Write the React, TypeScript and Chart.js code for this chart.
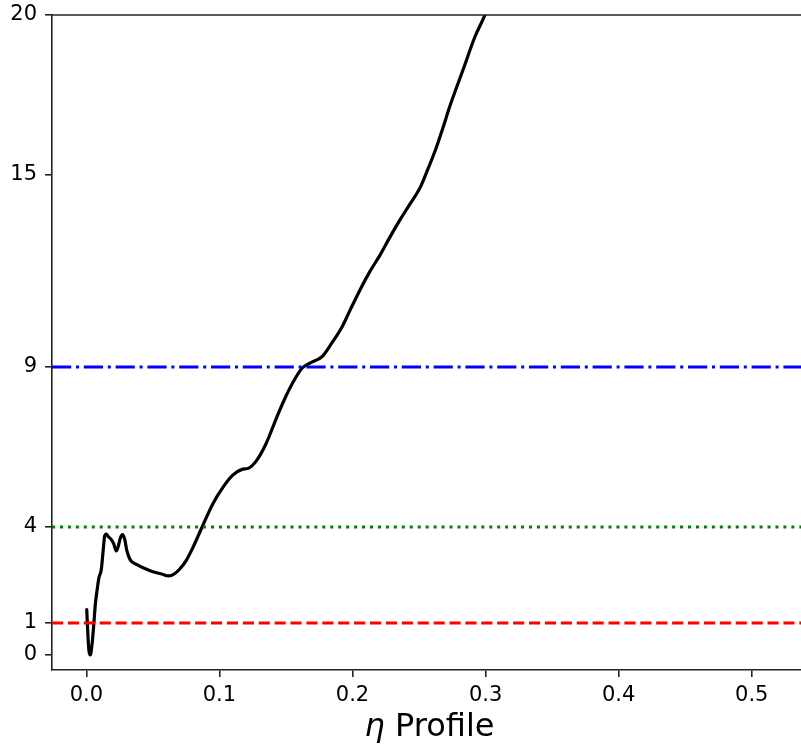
import { useEffect, useRef } from 'react';
import { Chart, registerables } from 'chart.js';

Chart.register(...registerables);

// ---- data ----
const ETA_X = [
  0.0003, 0.0012, 0.002, 0.003, 0.0042, 0.0055, 0.0068, 0.008, 0.0095, 0.0112,
  0.0125, 0.0138, 0.015, 0.0165, 0.0185, 0.0205, 0.0225, 0.024, 0.0255, 0.0272,
  0.0288, 0.0305, 0.033, 0.038, 0.044, 0.05, 0.056, 0.062, 0.066, 0.07,
  0.075, 0.08, 0.087, 0.095, 0.103, 0.11, 0.117, 0.122, 0.128, 0.135,
  0.143, 0.149, 0.155, 0.162, 0.168, 0.177, 0.184, 0.192, 0.198, 0.206,
  0.213, 0.221, 0.228, 0.236, 0.243, 0.251, 0.257, 0.263, 0.268, 0.273,
  0.283, 0.292, 0.2995, 0.308,
];
const ETA_Y = [
  1.42, 0.6, 0.12, 0.0, 0.3, 0.9, 1.6, 2.0, 2.42, 2.66,
  3.2, 3.72, 3.78, 3.7, 3.62, 3.48, 3.25, 3.4, 3.65, 3.76,
  3.62, 3.25, 2.97, 2.82, 2.7, 2.6, 2.54, 2.47, 2.53, 2.68,
  2.95, 3.35, 4.0, 4.72, 5.26, 5.62, 5.8, 5.84, 6.08, 6.6,
  7.42, 8.0, 8.5, 8.96, 9.12, 9.32, 9.72, 10.24, 10.76, 11.44,
  11.98, 12.52, 13.05, 13.62, 14.08, 14.62, 15.22, 15.86, 16.48, 17.13,
  18.28, 19.32, 20.0, 21.0,
];
const REF_LEVELS = [1, 4, 9];
const REF_COLORS = ['#ff0000', '#008000', '#0000ff'];
const REF_DASHES = [
  [11.1, 4.8],
  [3, 4.95],
  [19.2, 4.8, 3, 4.8],
];
const X_TICKS = [0, 0.1, 0.2, 0.3, 0.4, 0.5];
const Y_TICKS = [0, 1, 4, 9, 15, 20];
const X_MIN = -0.0258;
const X_MAX = 0.537;
const Y_MIN = -0.47;
const Y_MAX = 20;
const X_TITLE_SYMBOL = 'η';
const X_TITLE_TEXT = ' Profile';

const FONT = '"DejaVu Sans", sans-serif';
const SPINE = '#222';

const framePlugin = {
  id: 'frame',
  afterDraw(chart: any) {
    const { ctx, chartArea } = chart;
    ctx.save();
    // top spine
    ctx.strokeStyle = SPINE;
    ctx.lineWidth = 1.6;
    ctx.beginPath();
    ctx.moveTo(chartArea.left, chartArea.top);
    ctx.lineTo(chart.width, chartArea.top);
    ctx.stroke();
    // x title
    ctx.fillStyle = '#000';
    ctx.textBaseline = 'alphabetic';
    ctx.font = `italic 32px ${FONT}`;
    const w1 = ctx.measureText(X_TITLE_SYMBOL).width;
    ctx.font = `32px ${FONT}`;
    const w2 = ctx.measureText(X_TITLE_TEXT).width;
    const cx = (chartArea.left + chartArea.right) / 2 + 3;
    const x0 = cx - (w1 + w2) / 2;
    const baseY = 736;
    ctx.font = `italic 32px ${FONT}`;
    ctx.textAlign = 'left';
    ctx.fillText(X_TITLE_SYMBOL, x0, baseY);
    ctx.font = `32px ${FONT}`;
    ctx.fillText(X_TITLE_TEXT, x0 + w1, baseY);
    ctx.restore();
  },
};

export default function App() {
  const ref = useRef<HTMLCanvasElement | null>(null);

  useEffect(() => {
    if (!ref.current) return;
    const refSets = REF_LEVELS.map((lvl, i) => ({
      data: [
        { x: X_MIN, y: lvl },
        { x: X_MAX, y: lvl },
      ],
      borderColor: REF_COLORS[i],
      borderWidth: 3,
      borderDash: REF_DASHES[i],
      borderCapStyle: 'butt' as const,
      pointRadius: 0,
      tension: 0,
      fill: false,
    }));
    const curve = {
      data: ETA_X.map((x, i) => ({ x, y: ETA_Y[i] })),
      borderColor: '#000',
      borderWidth: 3.2,
      pointRadius: 0,
      cubicInterpolationMode: 'monotone' as const,
      fill: false,
      borderJoinStyle: 'round' as const,
      borderCapStyle: 'round' as const,
    };
    const tickFont = { family: FONT, size: 21 };
    const chart = new Chart(ref.current, {
      type: 'line',
      data: { datasets: [...refSets, curve] as any },
      options: {
        responsive: false,
        animation: false,
        devicePixelRatio: 1,
        layout: { padding: { top: 15, right: 0, left: 0, bottom: 0 } },
        plugins: { legend: { display: false }, tooltip: { enabled: false } },
        scales: {
          x: {
            type: 'linear',
            min: X_MIN,
            max: X_MAX,
            afterBuildTicks: (s: any) => {
              s.ticks = X_TICKS.map((v) => ({ value: v }));
            },
            afterFit: (s: any) => {
              s.height = 80;
              s.paddingLeft = 0;
              s.paddingRight = 0;
            },
            ticks: {
              callback: (v: any) => Number(v).toFixed(1),
              font: tickFont,
              color: '#000',
              padding: 6,
              maxRotation: 0,
              autoSkip: false,
            },
            grid: {
              drawOnChartArea: false,
              drawTicks: true,
              tickLength: 7,
              color: SPINE,
              lineWidth: 1.6,
            },
            border: { display: true, color: SPINE, width: 1.6 },
          },
          y: {
            type: 'linear',
            min: Y_MIN,
            max: Y_MAX,
            afterBuildTicks: (s: any) => {
              s.ticks = Y_TICKS.map((v) => ({ value: v }));
            },
            afterFit: (s: any) => {
              s.width = 52;
              s.paddingTop = 0;
              s.paddingBottom = 0;
            },
            ticks: {
              callback: (v: any) => String(v),
              font: tickFont,
              color: '#000',
              padding: 8,
              autoSkip: false,
            },
            grid: {
              drawOnChartArea: false,
              drawTicks: true,
              tickLength: 7,
              color: SPINE,
              lineWidth: 1.6,
            },
            border: { display: true, color: SPINE, width: 1.6 },
          },
        },
      },
      plugins: [framePlugin],
    });
    return () => chart.destroy();
  }, []);

  return (
    <div style={{ position: 'absolute', left: 0, top: 0, width: 801, height: 750, background: '#fff' }}>
      <canvas ref={ref} width={801} height={750} style={{ display: 'block', width: 801, height: 750 }} />
    </div>
  );
}
